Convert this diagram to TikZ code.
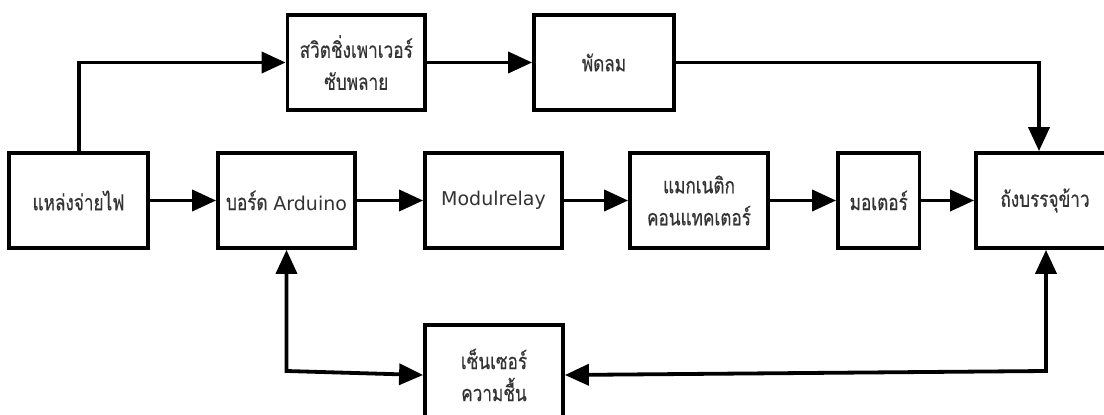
\documentclass[tikz,border=0pt]{standalone}
\usepackage{fontspec}
\setmainfont[Script=Thai,FakeStretch=0.78,FakeBold=0.4]{Loma}
\newfontfamily\lat{DejaVu Sans}
\usetikzlibrary{arrows.meta}
\definecolor{txt}{HTML}{333333}
\begin{document}
\begin{tikzpicture}[x=1pt,y=-1pt,
  blk/.style={draw=black,line width=3.8pt,rectangle,inner sep=0pt,
    minimum width=138pt,minimum height=95pt,
    text=txt,align=center,font=\fontsize{22}{32}\selectfont},
  latn/.style={font=\lat\fontsize{19}{32}\selectfont},
  arr/.style={line width=3.8pt,-{Triangle[length=24pt,width=21pt]}},
  darr/.style={line width=3.8pt,{Triangle[length=24pt,width=21pt]}-{Triangle[length=24pt,width=21pt]}}]
\clip (0,0) rectangle (1104,415);
\fill[white] (0,0) rectangle (1104,415);
\node[blk,minimum width=139pt] (pw) at (78.5,200.5) {แหล่งจ่ายไฟ};
\node[blk,minimum width=137pt] (ard) at (286.5,200.5) {บอร์ด {\lat\fontsize{19}{32}\selectfont Arduino}};
\node[blk,latn,minimum width=137pt] (mod) at (493.5,200.5) {Modulrelay};
\node[blk] (mag) at (699,200.5) {แมกเนติก\\คอนแทคเตอร์};
\node[blk,minimum width=81.5pt] (mot) at (878.75,200.5) {มอเตอร์};
\node[blk] (tank) at (1045,200.5) {ถังบรรจุข้าว};
\node[blk,minimum width=137.5pt] (sw) at (356.25,62.5) {สวิตชิ่งเพาเวอร์\\ซับพลาย};
\node[blk,minimum width=140pt] (fan) at (604,62.5) {พัดลม};
\node[blk,minimum height=100pt] (sens) at (494,375) {เซ็นเซอร์\\ความชื้น};
\coordinate (c4) at (79,62.5);
\coordinate (c3) at (1039,62.5);
\coordinate (c1) at (286.5,371);
\coordinate (c2) at (1046,371);
\draw[arr] (pw.north -| c4) -- (c4) -- (sw.west);
\draw[arr] (sw.east) -- (fan.west);
\draw[arr] (fan.east) -- (c3) -- (tank.north -| c3);
\draw[arr] (pw.east) -- (ard.west);
\draw[arr] (ard.east) -- (mod.west);
\draw[arr] (mod.east) -- (mag.west);
\draw[arr] (mag.east) -- (mot.west);
\draw[arr] (mot.east) -- (tank.west);
\draw[darr] (ard.south -| c1) -- (c1) -- (sens.west);
\draw[darr] (tank.south -| c2) -- (c2) -- (sens.east);
\end{tikzpicture}
\end{document}
